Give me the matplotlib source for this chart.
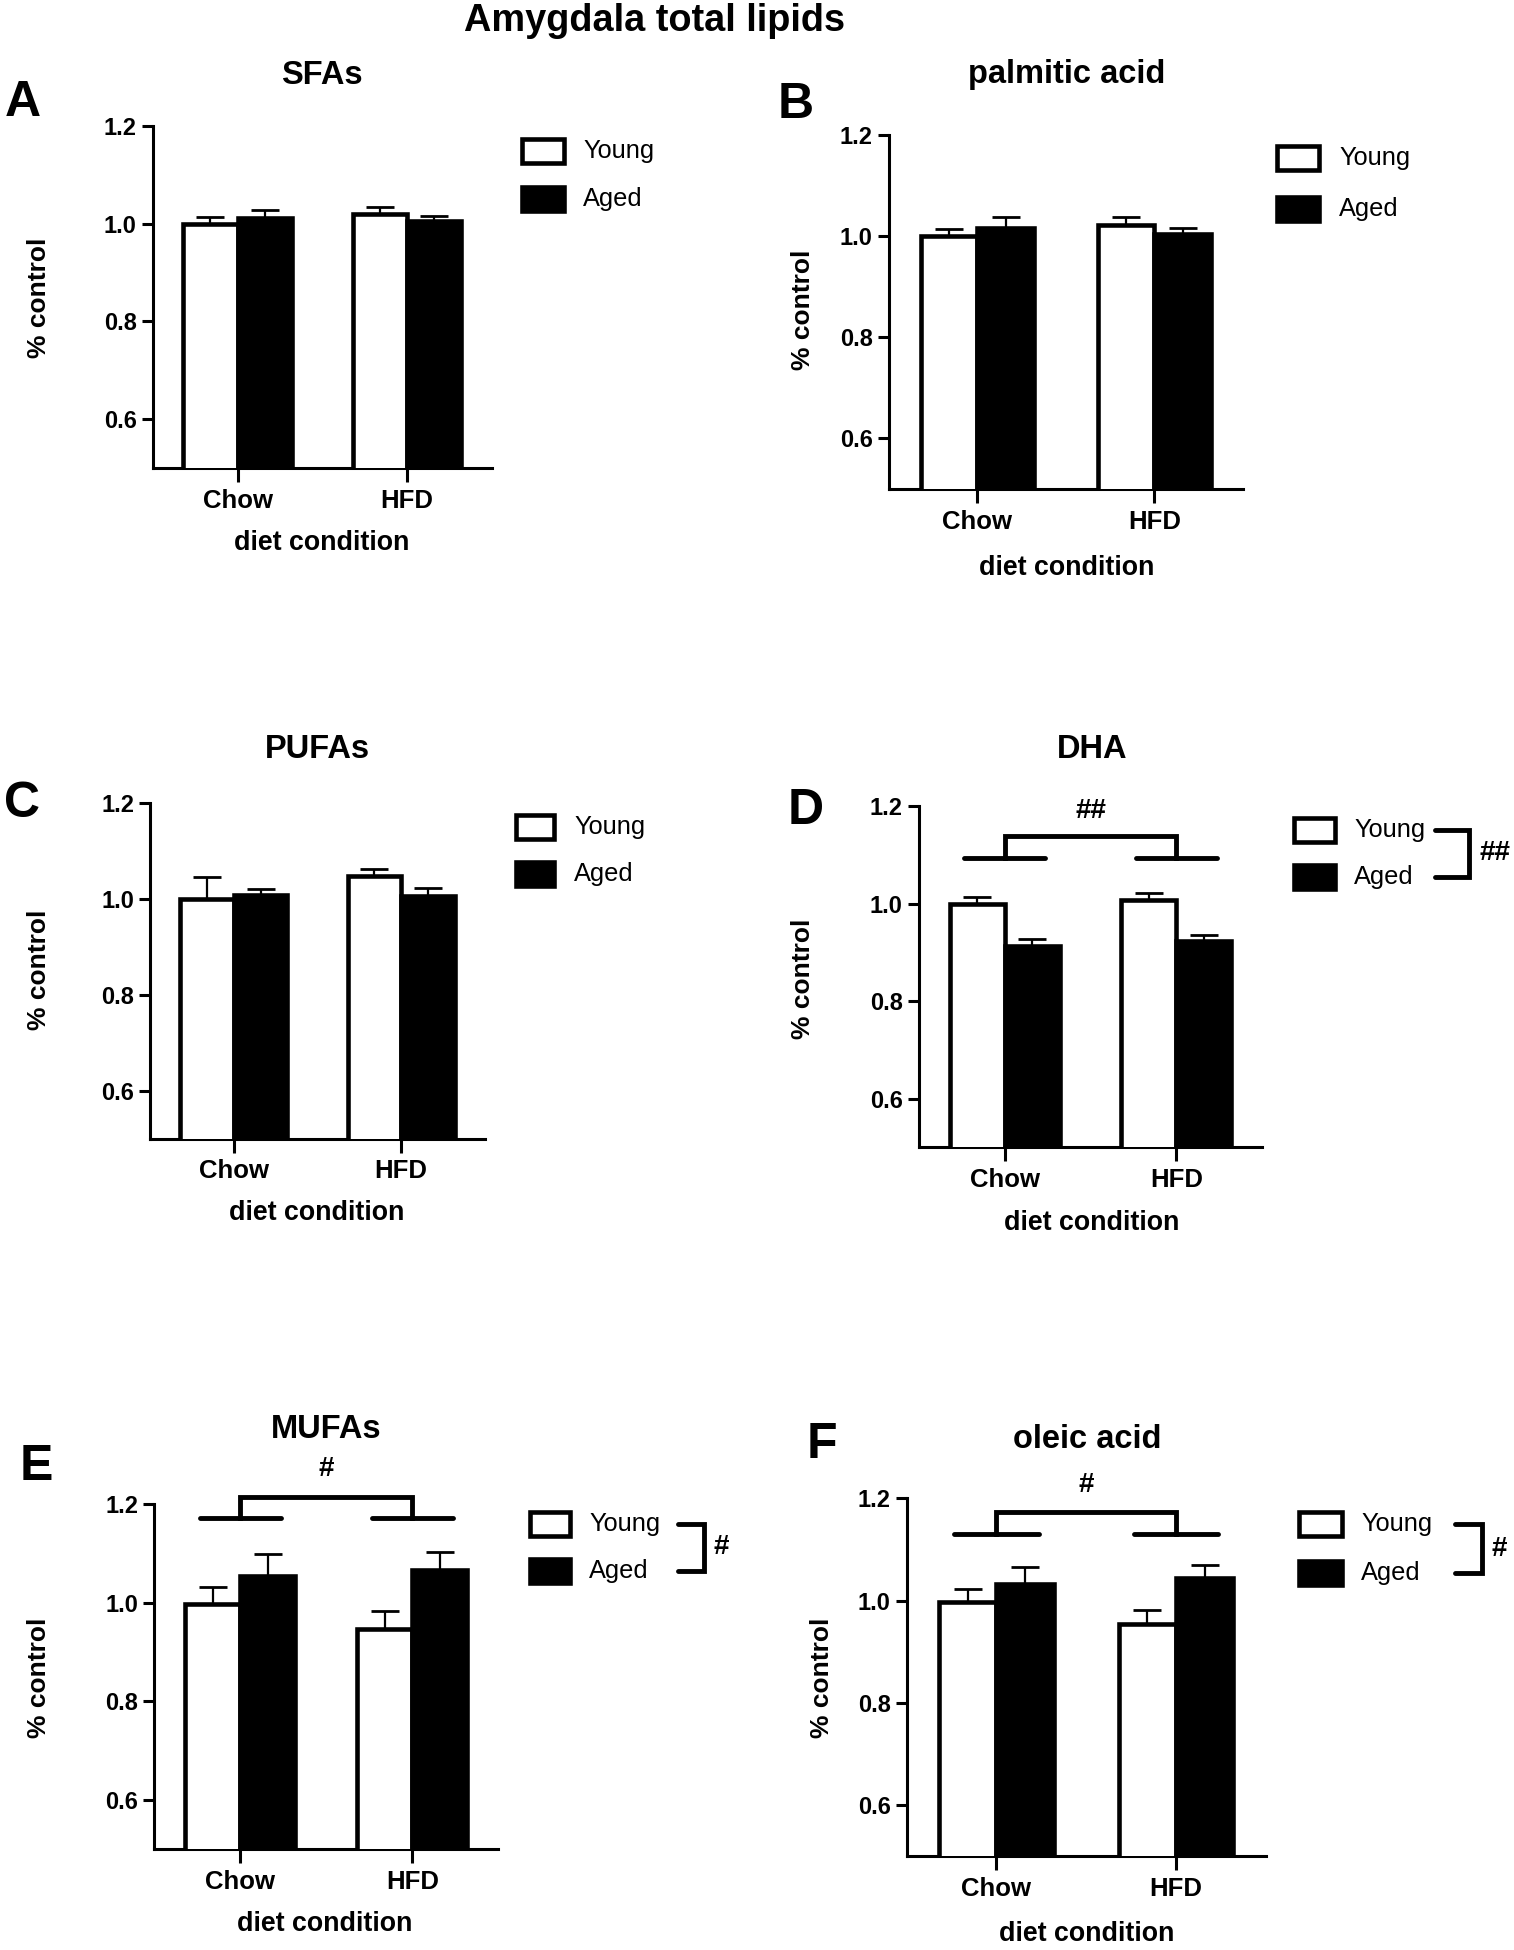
import matplotlib
matplotlib.use("Agg")
import matplotlib.pyplot as plt
import numpy as np
from matplotlib.patches import Rectangle
from matplotlib.lines import Line2D

plt.rcParams['font.family'] = ['Liberation Sans', 'DejaVu Sans']

# data (fraction of control, bars + upper SEM)
groups = ["Chow", "HFD"]
series = ["Young", "Aged"]
yticks = [0.6, 0.8, 1.0, 1.2]

sfa_young = [1.000, 1.020]
sfa_young_err = [0.015, 0.014]
sfa_aged = [1.011, 1.005]
sfa_aged_err = [0.017, 0.011]

palm_young = [1.000, 1.021]
palm_young_err = [0.014, 0.016]
palm_aged = [1.015, 1.003]
palm_aged_err = [0.022, 0.012]

pufa_young = [1.000, 1.049]
pufa_young_err = [0.045, 0.013]
pufa_aged = [1.008, 1.007]
pufa_aged_err = [0.012, 0.015]

dha_young = [1.000, 1.008]
dha_young_err = [0.015, 0.014]
dha_aged = [0.913, 0.924]
dha_aged_err = [0.014, 0.011]

mufa_young = [0.998, 0.947]
mufa_young_err = [0.034, 0.036]
mufa_aged = [1.054, 1.067]
mufa_aged_err = [0.045, 0.037]

oleic_young = [0.997, 0.955]
oleic_young_err = [0.026, 0.027]
oleic_aged = [1.032, 1.044]
oleic_aged_err = [0.033, 0.025]

W, H = 1514, 1950
fig = plt.figure(figsize=(W / 100, H / 100), dpi=100)


def fx(x):
    return x / W


def fy(y):
    return 1 - y / H


def draw_panel(box, young, young_err, aged, aged_err, title, title_xy, letter, letter_xy,
               ylab_xy, xlab_xy, leg, sig=None, legsig=None):
    L, R, T, B = box
    ax = fig.add_axes([fx(L), fy(B), (R - L) / W, (B - T) / H])
    x = np.arange(len(groups))
    w = 0.32
    ax.bar(x - w / 2, young, w, color='white', edgecolor='black', linewidth=3.3, zorder=3)
    ax.bar(x + w / 2, aged, w, color='black', edgecolor='black', linewidth=3.3, zorder=3)
    ax.errorbar(x - w / 2, young, yerr=[np.zeros(len(young)), young_err], fmt='none',
                ecolor='black', elinewidth=1.6, capsize=10.4, capthick=2.0, zorder=2)
    ax.errorbar(x + w / 2, aged, yerr=[np.zeros(len(aged)), aged_err], fmt='none',
                ecolor='black', elinewidth=1.6, capsize=10.4, capthick=2.0, zorder=2)
    ax.set_xlim(-0.5, 1.5)
    ax.set_ylim(0.5, 1.2)
    ax.set_yticks(yticks)
    ax.set_yticklabels(["%.1f" % t for t in yticks])
    ax.set_xticks(x)
    ax.set_xticklabels(groups)
    for s in ['top', 'right']:
        ax.spines[s].set_visible(False)
    for s in ['left', 'bottom']:
        ax.spines[s].set_linewidth(2.2)
    ax.tick_params(axis='y', length=8.0, width=2.2, pad=3.5, labelsize=17)
    ax.tick_params(axis='x', length=10, width=2.2, pad=5, labelsize=18.5)
    for lbl in ax.get_xticklabels() + ax.get_yticklabels():
        lbl.set_fontweight('bold')

    fig.text(fx(title_xy[0]), fy(title_xy[1]), title, ha='center', va='center',
             fontsize=23.5, fontweight='bold')
    fig.text(fx(letter_xy[0]), fy(letter_xy[1]), letter, ha='center', va='center',
             fontsize=36, fontweight='bold')
    fig.text(fx(ylab_xy[0]), fy(ylab_xy[1]), "% control", ha='center', va='center',
             rotation=90, fontsize=19, fontweight='bold')
    fig.text(fx(xlab_xy[0]), fy(xlab_xy[1]), "diet condition", ha='center', va='center',
             fontsize=19.3, fontweight='bold')

    # legend
    bl, br, yy, ya, tx = leg
    for yc, name, fc in [(yy, series[0], 'white'), (ya, series[1], 'black')]:
        fig.patches.append(Rectangle((fx(bl), fy(yc + 12)), (br - bl) / W, 24 / H,
                                     transform=fig.transFigure, facecolor=fc,
                                     edgecolor='black', lw=3.3))
        fig.text(fx(tx), fy(yc), name, ha='left', va='center', fontsize=18.3)

    if legsig is not None:
        sl, vx, mark, mx = legsig
        fig.add_artist(Line2D([fx(sl), fx(vx), fx(vx), fx(sl)],
                              [fy(yy), fy(yy), fy(ya), fy(ya)],
                              transform=fig.transFigure, lw=3.5, color='black',
                              solid_capstyle='round', solid_joinstyle='miter'))
        fig.text(fx(mx), fy((yy + ya) / 2), mark, ha='left', va='center',
                 fontsize=20, fontweight='bold')

    if sig is not None:
        low, high, mark_y, mark = sig
        half = 0.235
        for xc in x:
            ax.plot([xc - half, xc + half], [low, low], color='black', lw=3.5,
                    solid_capstyle='round', clip_on=False)
        ax.plot([x[0], x[0], x[1], x[1]], [low, high, high, low], color='black', lw=3.5,
                solid_joinstyle='miter', clip_on=False)
        ax.text(x.mean(), mark_y, mark, ha='center', va='center', fontsize=20,
                fontweight='bold', clip_on=False)
    return ax


fig.text(fx(655), fy(21), "Amygdala total lipids", ha='center', va='center',
         fontsize=27.3, fontweight='bold')

draw_panel((152.7, 492, 126.3, 467.7), sfa_young, sfa_young_err, sfa_aged, sfa_aged_err,
           "SFAs", (322, 75), "A", (23, 103), (39, 298), (322, 543),
           (522, 564, 151, 199, 583))

draw_panel((888.8, 1243, 134.7, 488.7), palm_young, palm_young_err, palm_aged, palm_aged_err,
           "palmitic acid", (1067, 75), "B", (796, 105), (803, 310), (1067, 568),
           (1277, 1319, 158, 209, 1339))

draw_panel((150.3, 484.7, 803.2, 1138.6), pufa_young, pufa_young_err, pufa_aged, pufa_aged_err,
           "PUFAs", (317.5, 750), "C", (22, 804), (39, 970), (317, 1213),
           (516, 554, 827, 874, 574))

draw_panel((918.7, 1262.4, 806.4, 1147.4), dha_young, dha_young_err, dha_aged, dha_aged_err,
           "DHA", (1092, 749), "D", (806, 811), (803, 979), (1092, 1223),
           (1294, 1335, 830, 877, 1354),
           sig=(1.094, 1.139, 1.19, "##"), legsig=(1435, 1469, "##", 1479))

draw_panel((154.1, 498.3, 1504.4, 1849), mufa_young, mufa_young_err, mufa_aged, mufa_aged_err,
           "MUFAs", (325.7, 1429), "E", (36, 1467), (39, 1678), (325, 1924),
           (530, 570, 1524, 1571, 589),
           sig=(1.172, 1.216, 1.272, "#"), legsig=(678, 704, "#", 713))

draw_panel((906.6, 1265.8, 1498.2, 1856.4), oleic_young, oleic_young_err, oleic_aged, oleic_aged_err,
           "oleic acid", (1087, 1440), "F", (822, 1445), (822, 1678), (1087, 1934),
           (1299, 1342, 1524, 1573, 1361),
           sig=(1.13, 1.174, 1.225, "#"), legsig=(1455, 1482, "#", 1492))

fig.savefig("out.png", dpi=100, facecolor='white')
